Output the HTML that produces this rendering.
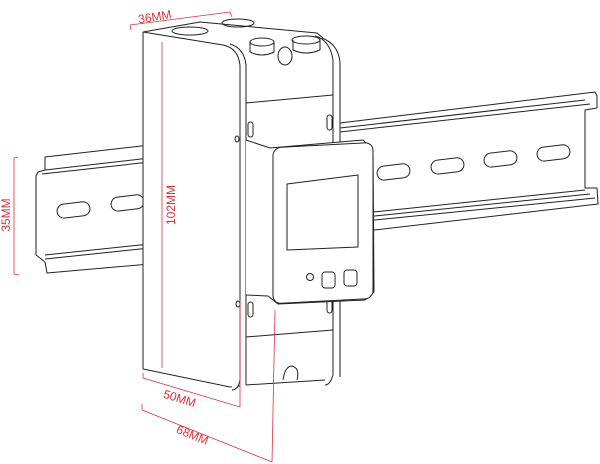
<!DOCTYPE html>
<html><head><meta charset="utf-8"><style>
html,body{margin:0;padding:0;background:#fff;width:600px;height:464px;overflow:hidden}
svg{display:block}
text{font-family:"Liberation Sans",sans-serif;fill:#e0303a;font-size:12px}
</style></head><body>
<svg width="600" height="464" viewBox="0 0 600 464" xmlns="http://www.w3.org/2000/svg">
<g fill="none" stroke="#222" stroke-width="1" stroke-linejoin="round">
<!-- right rail -->
<path d="M340 123 L595 92 L597 96 L597 108 L585 110 L585 188 L597 188 L598 204 L340 234" fill="#fff"/>
<path d="M340 128 L585 100"/>
<path d="M340 132 L590 104"/>
<path d="M345 215 L585 190"/>
<path d="M345 219 L590 194"/>
<path d="M345 223 L595 198"/>
<rect x="377" y="165" width="33" height="14" rx="7" transform="rotate(-7 393 172)"/>
<rect x="431" y="159" width="33" height="14" rx="7" transform="rotate(-7 447 166)"/>
<rect x="484" y="152" width="33" height="14" rx="7" transform="rotate(-7 500 159)"/>
<rect x="537" y="146" width="33" height="14" rx="7" transform="rotate(-7 553 153)"/>
<!-- left rail -->
<path d="M150 145 L45 157 L45 170 L38 172 L36 176 L36 255 L40 258 L45 262 L47 273 L150 264" fill="#fff"/>
<path d="M45 170 L150 158"/>
<path d="M42 174 L150 162"/>
<path d="M45 255 L150 244"/>
<path d="M45 259 L150 248"/>
<rect x="57" y="203" width="33" height="14" rx="7" transform="rotate(-7 73 210)"/>
<rect x="111" y="196" width="33" height="14" rx="7" transform="rotate(-7 127 203)"/>
<!-- body left face -->
<path d="M143 32 L143 369 L230 387 L240 386" fill="#fff"/>
<path d="M143 32 L200 22 L317 33 L323 38"/>
<path d="M143 32 L223 45"/>
<!-- top face details -->
<ellipse cx="190" cy="31" rx="18" ry="4"/>
<ellipse cx="238" cy="23" rx="16" ry="4"/>
<path d="M250 42 L250 52 Q262 58 274 52 L274 42"/>
<ellipse cx="262" cy="42" rx="12" ry="4"/>
<path d="M293 40 L293 50 Q306 56 320 50 L320 40"/>
<ellipse cx="306" cy="40" rx="14" ry="4"/>
<ellipse cx="285" cy="56" rx="7" ry="9"/>
<!-- right face -->
<path d="M223 45 Q238 48 240 65 L240 380 Q238 390 232 390" fill="#fff"/>
<path d="M230 44 Q244 48 246 65 L246 385"/>
<path d="M315 36 Q330 40 333 60 L333 375 Q330 385 325 385"/>
<path d="M322 38 Q338 44 340 62 L340 377"/>
<path d="M246 103 L333 95"/>
<path d="M246 337 L333 330"/>
<path d="M246 385 L325 380"/>
<rect x="248" y="122" width="5" height="15" rx="2.5"/>
<rect x="327" y="115" width="5" height="15" rx="2.5"/>
<rect x="248" y="302" width="5" height="15" rx="2.5"/>
<rect x="327" y="298" width="5" height="15" rx="2.5"/>
<ellipse cx="237" cy="139" rx="2" ry="3"/>
<ellipse cx="238" cy="304" rx="2" ry="3"/>
<path d="M283 380 Q285 366 292 366 Q300 368 297 380"/>
<!-- display module -->
<path d="M246 140 L270 148 L363 140 L373 150 L374 292 L365 300 L278 304 L268 296 L246 295" fill="#fff"/>
<rect x="273" y="147" width="100" height="156" rx="8" fill="#fff" transform="skewY(-3) translate(0 15)"/>
<path d="M287 184 L358 175 L358 247 L287 250 Z"/>
<circle cx="310" cy="277" r="3.5"/>
<rect x="322" y="272" width="13" height="16" rx="3"/>
<rect x="344" y="270" width="13" height="16" rx="3"/>
</g>
<g fill="none" stroke="#e0303a" stroke-width="0.8">
<path d="M130 25 L230 12"/><path d="M130 25 L131 30"/><path d="M230 12 L232 17"/>
<path d="M162 42 L162 368"/>
<path d="M18 157 L14 158 L14 274 L19 275"/>
<path d="M143 373 L143 378 L240 407 L240 300"/>
<path d="M142 404 L142 410 L272 462"/>
<path d="M272 462 L275 310"/>
</g>
<text x="138" y="20" transform="rotate(-9 160 16)">36MM</text>
<text x="0" y="0" transform="translate(175 205) rotate(-90)" text-anchor="middle">102MM</text>
<text x="0" y="0" transform="translate(10 215) rotate(-90)" text-anchor="middle">35MM</text>
<text x="163" y="402" transform="rotate(17 178 398)">50MM</text>
<text x="176" y="438" transform="rotate(22 190 434)">68MM</text>
</svg>
</body></html>
